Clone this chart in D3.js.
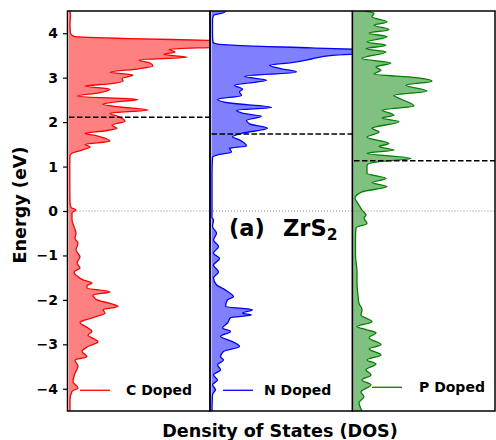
<!DOCTYPE html>
<html>
<head>
<meta charset="utf-8">
<script src="https://cdn.jsdelivr.net/npm/d3@7"></script>
<style>
  body { margin: 0; background: #fff; }
  svg text { font-family: "DejaVu Sans", sans-serif; font-weight: bold; }
</style>
</head>
<body>
<div id="area"></div>
<script>
// energies (eV) and DOS (arb. units) for each doped system
const energyC = [4.5, 4.4, 4.2, 4.0, 3.93, 3.88, 3.84, 3.8, 3.72, 3.68, 3.64, 3.58, 3.52, 3.46, 3.4, 3.33, 3.26, 3.2, 3.12, 3.06, 2.98, 2.92, 2.86, 2.81, 2.74, 2.66, 2.58, 2.51, 2.45, 2.4, 2.34, 2.27, 2.2, 2.12, 2.02, 1.93, 1.86, 1.8, 1.75, 1.69, 1.62, 1.57, 1.5, 1.44, 1.37, 1.3, 1.24, 1.0, 0.6, 0.2, 0.08, 0.02, -0.04, -0.2, -0.35, -0.5, -0.62, -0.72, -0.88, -1.03, -1.17, -1.28, -1.37, -1.48, -1.55, -1.62, -1.68, -1.73, -1.82, -1.89, -2.0, -2.08, -2.15, -2.22, -2.3, -2.37, -2.44, -2.51, -2.63, -2.71, -2.79, -2.94, -3.05, -3.16, -3.28, -3.35, -3.5, -3.65, -3.84, -3.98, -4.06, -4.25, -4.5];
const dosC = [0.1, 0.15, 0.1, 0.15, 0.5, 6, 14, 20, 20, 14.5, 10, 10.6, 9.5, 11.8, 7, 8.1, 8.4, 7, 4.1, 6.4, 5.3, 5.4, 4, 1.6, 4.1, 3, 0.8, 6.9, 4.5, 3.4, 5.1, 7.9, 4.1, 5, 5.6, 4.3, 4.8, 3.5, 1.6, 2.8, 3.8, 4.1, 1.6, 2.1, 1.3, 0.3, 0.1, 0.08, 0.08, 0.1, 0.2, 0.7, 0.3, 0.3, 0.5, 0.7, 0.6, 0.9, 0.7, 1.1, 0.8, 1.1, 0.5, 0.9, 1.4, 2.3, 1.8, 1.8, 4.1, 2.4, 2.8, 4.1, 4.9, 3.4, 3.6, 2.8, 1.8, 1.1, 1.9, 2.3, 1.9, 2.9, 1.9, 1.3, 1.8, 0.6, 0.9, 0.6, 0.4, 0.9, 0.3, 0.1, 0.1];

const energyN = [4.5, 4.46, 4.4, 4.3, 4.0, 3.8, 3.76, 3.72, 3.67, 3.62, 3.56, 3.5, 3.42, 3.38, 3.34, 3.28, 3.2, 3.13, 3.03, 2.94, 2.83, 2.74, 2.68, 2.6, 2.51, 2.43, 2.33, 2.27, 2.2, 2.13, 2.04, 1.96, 1.86, 1.75, 1.67, 1.6, 1.46, 1.41, 1.33, 1.26, 1.21, 0.8, 0.2, -0.15, -0.2, -0.35, -0.5, -0.65, -0.8, -0.95, -1.07, -1.22, -1.37, -1.51, -1.66, -1.78, -1.93, -2.0, -2.15, -2.22, -2.3, -2.34, -2.4, -2.52, -2.63, -2.71, -2.82, -2.94, -3.05, -3.16, -3.28, -3.35, -3.46, -3.57, -3.69, -3.8, -3.91, -4.02, -4.13, -4.5];
const dosN = [1.4, 1.2, 0.2, 0.1, 0.1, 0.15, 0.5, 3, 10, 16, 16, 12.1, 10, 9.1, 8, 5.8, 7, 8.5, 3.3, 5.5, 2.3, 3.1, 2.8, 3, 0.6, 1.8, 6, 2.5, 3.1, 5, 3.5, 3.8, 5.6, 3.1, 2.1, 2.8, 3.5, 1.8, 2, 0.6, 0.1, 0.05, 0.05, 0.05, 0.2, 0.1, 0.5, 0.2, 0.7, 0.2, 0.8, 0.2, 0.7, 0.2, 0.5, 1.4, 2.2, 1.6, 1.4, 4.1, 3.1, 4.0, 1.9, 1.6, 1.1, 1.9, 0.9, 2.1, 2.8, 1.2, 0.9, 1.2, 0.6, 0.9, 0.2, 0.6, 0.1, 0.4, 0.1, 0.05];

const energyP = [4.5, 4.45, 4.37, 4.25, 4.18, 4.08, 4.0, 3.92, 3.8, 3.73, 3.65, 3.58, 3.43, 3.33, 3.24, 3.17, 3.08, 3.0, 2.92, 2.83, 2.7, 2.6, 2.52, 2.36, 2.27, 2.16, 2.09, 2.01, 1.86, 1.78, 1.66, 1.52, 1.45, 1.37, 1.3, 1.18, 1.11, 1.03, 0.85, 0.73, 0.64, 0.55, 0.43, 0.29, 0.13, 0.02, -0.09, -0.16, -0.28, -0.38, -0.6, -1.0, -1.37, -1.62, -1.9, -2.08, -2.22, -2.34, -2.49, -2.6, -2.67, -2.74, -2.85, -3.01, -3.1, -3.24, -3.35, -3.44, -3.57, -3.69, -3.8, -3.91, -4.07, -4.18, -4.31, -4.5];
const dosP = [1.0, 2.0, 1.8, 3.3, 2.0, 3.5, 1.5, 3.3, 1.3, 3.2, 1.2, 3.2, 0.8, 3.7, 2.2, 2.7, 2.0, 6.2, 7.8, 5.2, 7.3, 4.0, 4.7, 6.0, 2.8, 4.0, 2.8, 4.5, 1.8, 2.5, 1.3, 3.5, 2.5, 4.0, 1.3, 5.7, 2.5, 1.3, 1.3, 3.2, 1.8, 3.3, 0.8, 0.1, 0.5, 0.8, 1.2, 1.0, 1.3, 0.2, 0.15, 0.15, 0.3, 0.3, 0.4, 0.5, 0.8, 0.7, 1.8, 0.3, 1.2, 2.2, 1.5, 2.7, 1.5, 2.7, 1.3, 2.2, 1.2, 1.7, 0.8, 1.7, 0.7, 1.0, 0.5, 0.8];

const labels = ["C Doped", "N Doped", "P Doped"];
const cbmLevels = [2.11, 1.73, 1.13];
const yTicks = [-4, -3, -2, -1, 0, 1, 2, 3, 4];

const panels = [
  { energy: energyC, dos: dosC, label: labels[0], cbm: cbmLevels[0], line: "#ff0000", fill: "#ff8080", leg: [12.5, 58.5, 0] },
  { energy: energyN, dos: dosN, label: labels[1], cbm: cbmLevels[1], line: "#0000ff", fill: "#8080ff", leg: [13, 54, 0] },
  { energy: energyP, dos: dosP, label: labels[2], cbm: cbmLevels[2], line: "#008000", fill: "#80c080", leg: [19.5, 66.5, -3] },
];

const width = 496;
const height = 440;
const margin = { top: 11, right: 1, bottom: 29, left: 67.5 };
const panelW = (width - margin.left - margin.right) / panels.length;

const svg = d3.select("#area").append("svg")
  .attr("width", width)
  .attr("height", height);

const y = d3.scaleLinear()
  .domain([-4.5, 4.5])
  .range([height - margin.bottom, margin.top]);

panels.forEach((p, i) => {
  const left = margin.left + i * panelW;
  const x = d3.scaleLinear()
    .domain([-0.15, 14.1])
    .range([left, left + panelW]);

  const clipId = `clip${i}`;
  svg.append("clipPath").attr("id", clipId)
    .append("rect")
    .attr("x", left).attr("y", margin.top)
    .attr("width", panelW).attr("height", y(-4.5) - y(4.5));

  const g = svg.append("g").attr("clip-path", `url(#${clipId})`);

  const pts = p.energy.map((e, k) => ({ e, v: p.dos[k] }));

  const area = d3.area()
    .curve(d3.curveMonotoneY)
    .y((d) => y(d.e))
    .x0(x(0))
    .x1((d) => x(d.v));

  const line = d3.line()
    .curve(d3.curveMonotoneY)
    .y((d) => y(d.e))
    .x((d) => x(d.v));

  g.append("path").attr("d", area(pts)).attr("fill", p.fill);
  g.append("path").attr("d", line(pts))
    .attr("fill", "none").attr("stroke", p.line).attr("stroke-width", 1.3);

  // Fermi level
  g.append("line")
    .attr("x1", left).attr("x2", left + panelW)
    .attr("y1", y(0)).attr("y2", y(0))
    .attr("stroke", "#808080").attr("stroke-width", 1)
    .attr("stroke-dasharray", "1,2");

  // conduction band edge
  g.append("line")
    .attr("x1", x(0)).attr("x2", left + panelW)
    .attr("y1", y(p.cbm)).attr("y2", y(p.cbm))
    .attr("stroke", "#000").attr("stroke-width", 1.5)
    .attr("stroke-dasharray", "5.5,2.5");

  // legend
  const ly = y(-4) + p.leg[2] + 1.5;
  svg.append("line")
    .attr("x1", left + p.leg[0]).attr("x2", left + p.leg[0] + 30)
    .attr("y1", ly).attr("y2", ly)
    .attr("stroke", p.line).attr("stroke-width", 1.3);
  svg.append("text")
    .attr("x", left + p.leg[1]).attr("y", ly)
    .attr("dy", "0.35em")
    .attr("font-size", 14)
    .text(p.label);

  // frame
  svg.append("rect")
    .attr("x", left).attr("y", margin.top)
    .attr("width", panelW).attr("height", y(-4.5) - y(4.5))
    .attr("fill", "none").attr("stroke", "#000").attr("stroke-width", 1.5);
});

// Energy axis
const yAxis = svg.append("g")
  .attr("transform", `translate(${margin.left}, 0)`)
  .call(d3.axisLeft(y).tickValues(yTicks).tickSize(4.5).tickPadding(5)
    .tickFormat((d) => d < 0 ? "\u2212" + Math.abs(d) : d));
yAxis.select(".domain").remove();
yAxis.selectAll("line").attr("stroke-width", 1.2);
yAxis.selectAll("text").attr("font-size", 14).attr("font-family", "DejaVu Sans").attr("font-weight", "bold");

svg.append("text")
  .attr("transform", `translate(26, 205) rotate(-90)`)
  .attr("text-anchor", "middle")
  .attr("font-size", 17.6)
  .text("Energy (eV)");

svg.append("text")
  .attr("x", 280).attr("y", 436.5)
  .attr("text-anchor", "middle")
  .attr("font-size", 17.6)
  .text("Density of States (DOS)");

// title
svg.append("text")
  .attr("x", 229).attr("y", 236)
  .attr("font-size", 22.5)
  .text("(a)");
const formula = svg.append("text")
  .attr("x", 283).attr("y", 236)
  .attr("font-size", 22.5);
formula.append("tspan").text("ZrS");
formula.append("tspan").attr("font-size", 15.5).attr("dy", 4).text("2");
</script>
</body>
</html>
